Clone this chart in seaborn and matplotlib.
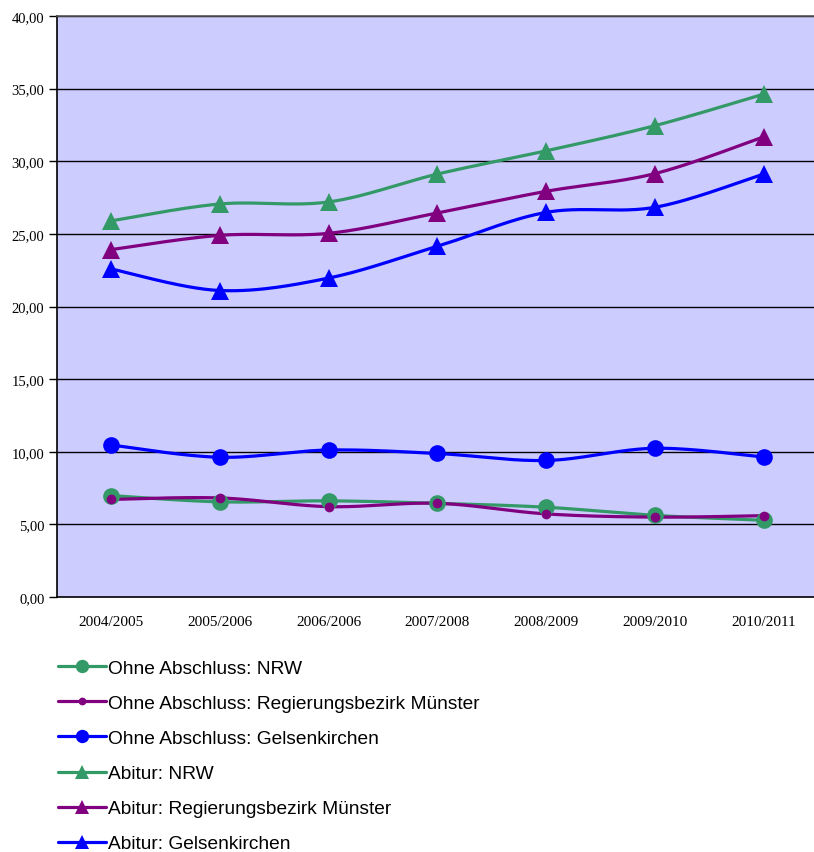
import numpy as np
import pandas as pd
import matplotlib
matplotlib.use("Agg")
import matplotlib.pyplot as plt
from matplotlib.lines import Line2D
import seaborn as sns

# School years on the x axis
years = ["2004/2005", "2005/2006", "2006/2006", "2007/2008",
         "2008/2009", "2009/2010", "2010/2011"]

# Share of school leavers (%) per group
ohne_nrw = [6.98, 6.55, 6.62, 6.45, 6.18, 5.62, 5.28]
ohne_muenster = [6.72, 6.82, 6.22, 6.45, 5.72, 5.50, 5.60]
ohne_gelsenkirchen = [10.46, 9.62, 10.12, 9.88, 9.40, 10.24, 9.64]
abitur_nrw = [25.90, 27.06, 27.20, 29.12, 30.72, 32.45, 34.62]
abitur_muenster = [23.92, 24.90, 25.04, 26.44, 27.93, 29.15, 31.68]
abitur_gelsenkirchen = [22.58, 21.10, 21.96, 24.15, 26.48, 26.83, 29.12]

y_ticks = [0, 5, 10, 15, 20, 25, 30, 35, 40]

GREEN = "#339966"
PURPLE = "#800080"
BLUE = "#0000FF"

series = [
    ("Ohne Abschluss: NRW", ohne_nrw, GREEN, "o", 12),
    ("Ohne Abschluss: Regierungsbezirk Münster", ohne_muenster, PURPLE, "o", 7),
    ("Ohne Abschluss: Gelsenkirchen", ohne_gelsenkirchen, BLUE, "o", 12),
    ("Abitur: NRW", abitur_nrw, GREEN, "^", 13),
    ("Abitur: Regierungsbezirk Münster", abitur_muenster, PURPLE, "^", 13),
    ("Abitur: Gelsenkirchen", abitur_gelsenkirchen, BLUE, "^", 13),
]


def smooth_curve(ys, steps=30):
    """Bezier smoothing through the points (Catmull-Rom style control points)."""
    p = np.column_stack([np.arange(len(ys), dtype=float), np.asarray(ys, float)])
    ext = np.vstack([p[0], p, p[-1]])
    out = [p[0]]
    t = np.linspace(0, 1, steps)[1:, None]
    for i in range(len(p) - 1):
        p0, p1, p2, p3 = ext[i], ext[i + 1], ext[i + 2], ext[i + 3]
        b1 = p1 + (p2 - p0) / 6.0
        b2 = p2 - (p3 - p1) / 6.0
        seg = ((1 - t) ** 3) * p1 + 3 * ((1 - t) ** 2) * t * b1 \
            + 3 * (1 - t) * t ** 2 * b2 + t ** 3 * p2
        out.extend(seg)
    out = np.array(out)
    return out[:, 0], out[:, 1]


sns.set_theme(style="white")
plt.rcParams["font.family"] = ["Liberation Serif", "DejaVu Serif"]
plt.rcParams["text.color"] = "black"
plt.rcParams["xtick.color"] = "black"
plt.rcParams["ytick.color"] = "black"

W, H = 814, 853
fig = plt.figure(figsize=(W / 100, H / 100), dpi=100)
left, right, top, bottom = 57, 818, 17, 598
ax = fig.add_axes([left / W, 1 - bottom / H, (right - left) / W, (bottom - top) / H])
ax.set_facecolor("#CCCCFF")

x_pos = np.arange(len(years))
handles = []
for label, vals, color, marker, ms in series:
    sx, sy = smooth_curve(vals)
    sns.lineplot(x=sx, y=sy, ax=ax, color=color, linewidth=2.3, sort=False,
                 estimator=None, zorder=3)
    ax.plot(x_pos, vals, linestyle="none", marker=marker, markersize=ms,
            color=color, markeredgewidth=0, zorder=4)
    handles.append(Line2D([0], [0], color=color, linewidth=2.3, marker=marker,
                          markersize=ms * 0.8, markeredgewidth=0))

ax.set_xlim(-0.5, len(years) - 0.5)
ax.set_ylim(0, 40)
ax.set_yticks(y_ticks)
ax.set_yticklabels([f"{v:.2f}".replace(".", ",") for v in y_ticks], fontsize=10.5)
ax.set_xticks(x_pos)
ax.set_xticklabels(years, fontsize=11)
ax.set_xticks(np.arange(0.5, len(years) - 0.5, 1.0), minor=True)
ax.tick_params(axis="x", which="major", length=0, pad=13)
ax.tick_params(axis="x", which="minor", length=5, width=1, color="black", direction="out")
ax.tick_params(axis="y", length=6, width=1, color="black", direction="out", pad=3, left=True)

for v in y_ticks[1:]:
    ax.axhline(v, color="black", linewidth=1.0, zorder=1)
ax.grid(False)

for side in ["left", "bottom", "top"]:
    ax.spines[side].set_visible(True)
    ax.spines[side].set_color("black")
    ax.spines[side].set_linewidth(1.2)
ax.spines["right"].set_visible(False)
ax.spines["top"].set_color("#555555")

leg = fig.legend(handles, [s[0] for s in series], loc="upper left",
                 bbox_to_anchor=(50 / W, 1 - 653 / H), frameon=False,
                 prop={"family": "Liberation Sans", "size": 13.8},
                 handlelength=2.5, handletextpad=0.15, labelspacing=0.92,
                 borderaxespad=0)
for txt in leg.get_texts():
    txt.set_color("black")

fig.savefig("out.png", dpi=100)
